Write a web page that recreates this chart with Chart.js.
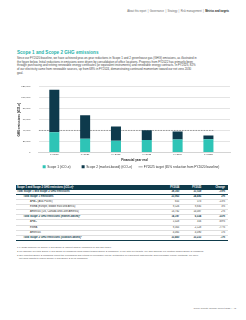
<!DOCTYPE html>
<html lang="en">
<head>
<meta charset="utf-8">
<script src="https://cdn.jsdelivr.net/npm/chart.js@4.4.1/dist/chart.umd.min.js"></script>
<style>
html,body{margin:0;padding:0;background:#fff;}
body{width:246px;height:320px;position:relative;overflow:hidden;font-family:"Liberation Sans",Arial,sans-serif;color:#333;}
.t{position:absolute;white-space:nowrap;}
#nav{top:9.9px;right:17px;font-size:2.6px;color:#666;}
#nav b{color:#222;}
#title{left:17px;top:50.3px;font-size:4.6px;color:#27b3ab;font-weight:bold;}
#para{left:17px;top:56.9px;font-size:2.92px;line-height:3.65px;color:#444;}
#chartWrap{position:absolute;left:8px;top:80px;width:228px;height:99px;}
#chartWrap canvas{display:block;}
#tbl{position:absolute;left:16px;top:184.5px;width:212px;border-collapse:collapse;table-layout:fixed;font-size:2.6px;color:#333;}
#tbl td,#tbl th{padding:0;height:4.15px;line-height:4.15px;white-space:nowrap;overflow:hidden;border-bottom:1px solid #dedede;font-weight:normal;}
#tbl th{background:#0f3b4b;color:#fff;font-weight:bold;height:5px;line-height:5px;border-bottom:none;}
#tbl .num{text-align:right;padding-right:0.7px;}
#tbl .chg{text-align:right;padding-right:3px;}
#tbl tr.b td{font-weight:bold;color:#0f3b4b;}
#tbl tr.dk td{border-bottom:1px solid #0f3b4b;}
#notes{left:17px;top:246.1px;font-size:2.4px;line-height:3.7px;color:#555;}
#footer{right:10px;top:307px;font-size:2.3px;color:#666;}
</style>
</head>
<body>
<div id="nav" class="t">About this report &nbsp;|&nbsp; Governance &nbsp;|&nbsp; Strategy &nbsp;|&nbsp; Risk management &nbsp;|&nbsp; <b>Metrics and targets</b></div>
<div id="title" class="t">Scope 1 and Scope 2 GHG emissions</div>
<div id="para" class="t">Since our FY2020 baseline, we have achieved year-on-year reductions in Scope 1 and 2 greenhouse gas (GHG) emissions, as illustrated in<br>the figure below. Initial reductions in emissions were driven by consolidation of office locations. Progress from FY2022 has primarily been<br>through purchasing and retiring renewable energy certificates (or equivalent instruments) and renewable energy contracts. In FY2025, 82%<br>of our electricity came from renewable sources, up from 68% in FY2024, demonstrating continued momentum toward our net zero 2030<br>goal.</div>
<div id="chartWrap"><canvas id="c" width="228" height="99"></canvas></div>
<table id="tbl">
<colgroup><col style="width:144px"><col style="width:20px"><col style="width:22px"><col style="width:26px"></colgroup>
<thead><tr><th style="text-align:left;padding-left:1px">Scope 1 and Scope 2 GHG emissions (tCO₂e)¹</th><th class="num">FY2024</th><th class="num">FY2025</th><th class="chg">Change</th></tr></thead>
<tbody id="tb"></tbody>
</table>
<div id="notes" class="t">1 FY2020 baseline for Scope 1 and Scope 2 (market-based) emissions of 115,051 tCO₂e.<br>2 We disclose our total Scope 1 and Scope 2 emissions using market-based Scope 2 emissions, in line with our targets. We also disclose our location-based Scope 2 emissions.<br>3 Our reported Scope 2 emissions reflect the purchasing and retiring of renewable energy certificates (or equivalent instruments) and renewable energy contracts. We have<br>&nbsp;&nbsp;&nbsp;not used offsets to reduce Scope 1 and Scope 2 GHG emissions.</div>
<div id="footer" class="t">Group Climate Change Report 2025 &nbsp;|&nbsp; 43</div>
<script>
// ---- chart data ----
const years = ['FY2020', 'FY2021', 'FY2022', 'FY2023', 'FY2024', 'FY2025'];
const scope1 = [37000, 25200, 21600, 22800, 23963, 24495];
const scope2 = [77600, 42700, 25800, 18000, 14397, 6534];
const target = [40268, 40268, 40268, 40268, 40268, 40268];
const yTickValues = [0, 20000, 40000, 60000, 80000, 100000, 120000];
const seriesNames = ['Scope 1 (tCO₂e)', 'Scope 2 (market-based) (tCO₂e)', 'FY2025 target (65% reduction from FY2020 baseline)'];

// ---- table data ----
const rowLabels = ['Total Scope 1 and Scope 2 GHG emissions', 'Total Scope 1 emissions', 'APAC (Asia Pacific)', 'EMEA (Europe, Middle East and Africa)', 'Americas (US, Canada and Latin America)', 'Total Scope 2 GHG emissions (market-based)²', 'APAC', 'EMEA', 'Americas', 'Total Scope 2 GHG emissions (location-based)³'];
const rowLevels = [0, 1, 2, 2, 2, 1, 2, 2, 2, 1];
const fy2024 = ['38,360', '23,963', '655', '9,526', '13,782', '14,397', '1,028', '9,305', '4,065', '33,460'];
const fy2025 = ['31,029', '24,495', '573', '9,835', '14,087', '6,534', '316', '2,128', '4,090', '33,233'];
const change = ['-19%', '2%', '-13%', '3%', '2%', '-55%', '-69%', '-77%', '1%', '-1%'];

const tb = document.getElementById('tb');
rowLabels.forEach((lab, i) => {
  const tr = document.createElement('tr');
  if (rowLevels[i] < 2) tr.className = 'b';
  if (i === 0 || i === rowLabels.length - 1) tr.className += ' dk';
  const indent = [1, 7.3, 14][rowLevels[i]];
  tr.innerHTML = '<td style="padding-left:' + indent + 'px">' + lab + '</td><td class="num">' + fy2024[i] + '</td><td class="num">' + fy2025[i] + '</td><td class="chg">' + change[i] + '</td>';
  tb.appendChild(tr);
});

const FONT = "'Liberation Sans', Arial, sans-serif";
const TEAL = '#2ec4b6';
const NAVY = '#0e3a4c';
const LEGEND_SHIFT = 12;
const pts = arr => arr.map((v, i) => ({x: i, y: v}));

const targetPlugin = {
  id: 'targetLine',
  afterLayout(chart) {
    // nudge the legend row so it sits centred under the plot area
    chart.legend.left += LEGEND_SHIFT;
    chart.legend.right += LEGEND_SHIFT;
  },
  beforeDatasetsDraw(chart) {
    const ds = chart.data.datasets[2];
    const y = chart.scales.y.getPixelForValue(ds.data[ds.data.length - 1].y);
    const meta = chart.getDatasetMeta(1);
    const last = meta.data[meta.data.length - 1];
    const ctx = chart.ctx;
    ctx.save();
    ctx.strokeStyle = ds.borderColor;
    ctx.lineWidth = ds.borderWidth;
    ctx.setLineDash(ds.borderDash);
    ctx.beginPath();
    ctx.moveTo(chart.chartArea.left, y);
    ctx.lineTo(last.x + last.width / 2, y);
    ctx.stroke();
    ctx.restore();
  }
};

new Chart(document.getElementById('c'), {
  type: 'bar',
  data: {
    datasets: [
      {label: seriesNames[0], data: pts(scope1), backgroundColor: TEAL, borderWidth: 0, pointStyle: 'rect', categoryPercentage: 1, barPercentage: 0.325},
      {label: seriesNames[1], data: pts(scope2), backgroundColor: NAVY, borderWidth: 0, pointStyle: 'rect', categoryPercentage: 1, barPercentage: 0.325},
      {label: seriesNames[2], type: 'line', data: pts(target), borderColor: '#8a8a8a', backgroundColor: '#8a8a8a', borderWidth: 0.8, borderDash: [1.6, 1.1], showLine: false, pointRadius: 0, pointStyle: 'line'}
    ]
  },
  options: {
    responsive: false,
    animation: false,
    devicePixelRatio: 1,
    layout: {padding: {top: 6.7, right: 6, bottom: 0.55, left: 0}},
    scales: {
      x: {
        type: 'linear', min: -0.5, max: 5.7, stacked: true, offset: false,
        grid: {display: false, drawTicks: false},
        border: {display: true, color: '#d4d4d4', width: 1},
        afterBuildTicks: s => { s.ticks = years.map((_, i) => ({value: i})); },
        ticks: {autoSkip: false, maxRotation: 0, padding: 0.5, color: '#444', font: {family: FONT, size: 2.5},
          callback: v => years[v] || ''},
        title: {display: true, text: 'Financial year end', color: '#222', font: {family: FONT, size: 3.0, weight: 'bold'}, padding: {top: 2.05, bottom: 0}}
      },
      y: {
        stacked: true, min: 0, max: 120000,
        afterBuildTicks: s => { s.ticks = yTickValues.map(v => ({value: v})); },
        afterFit: s => { s.width = 30.9; },
        grid: {color: '#e4e4e4', lineWidth: 1, drawTicks: true, tickLength: 8.1, tickColor: 'rgba(0,0,0,0)'},
        border: {display: false},
        ticks: {padding: 0.5, color: '#444', font: {family: FONT, size: 2.5},
          callback: v => v.toLocaleString('en-US')},
        title: {display: true, text: 'GHG emissions (tCO₂e)', color: '#222', font: {family: FONT, size: 3.0, weight: 'bold'}, padding: {top: 8.9, bottom: 0}}
      }
    },
    plugins: {
      tooltip: {enabled: false},
      legend: {
        position: 'bottom', align: 'center',
        labels: {
          usePointStyle: true, boxWidth: 3, boxHeight: 3, padding: 3, color: '#333',
          font: {family: FONT, size: 3.2},
          generateLabels(chart) {
            const items = Chart.defaults.plugins.legend.labels.generateLabels(chart);
            const pads = ['\u2003\u2003\u2002', '\u2003\u2005', ''];
            items.forEach((it, i) => { it.text += pads[i]; });
            return items;
          }
        }
      }
    }
  },
  plugins: [targetPlugin]
});
</script>
</body>
</html>
